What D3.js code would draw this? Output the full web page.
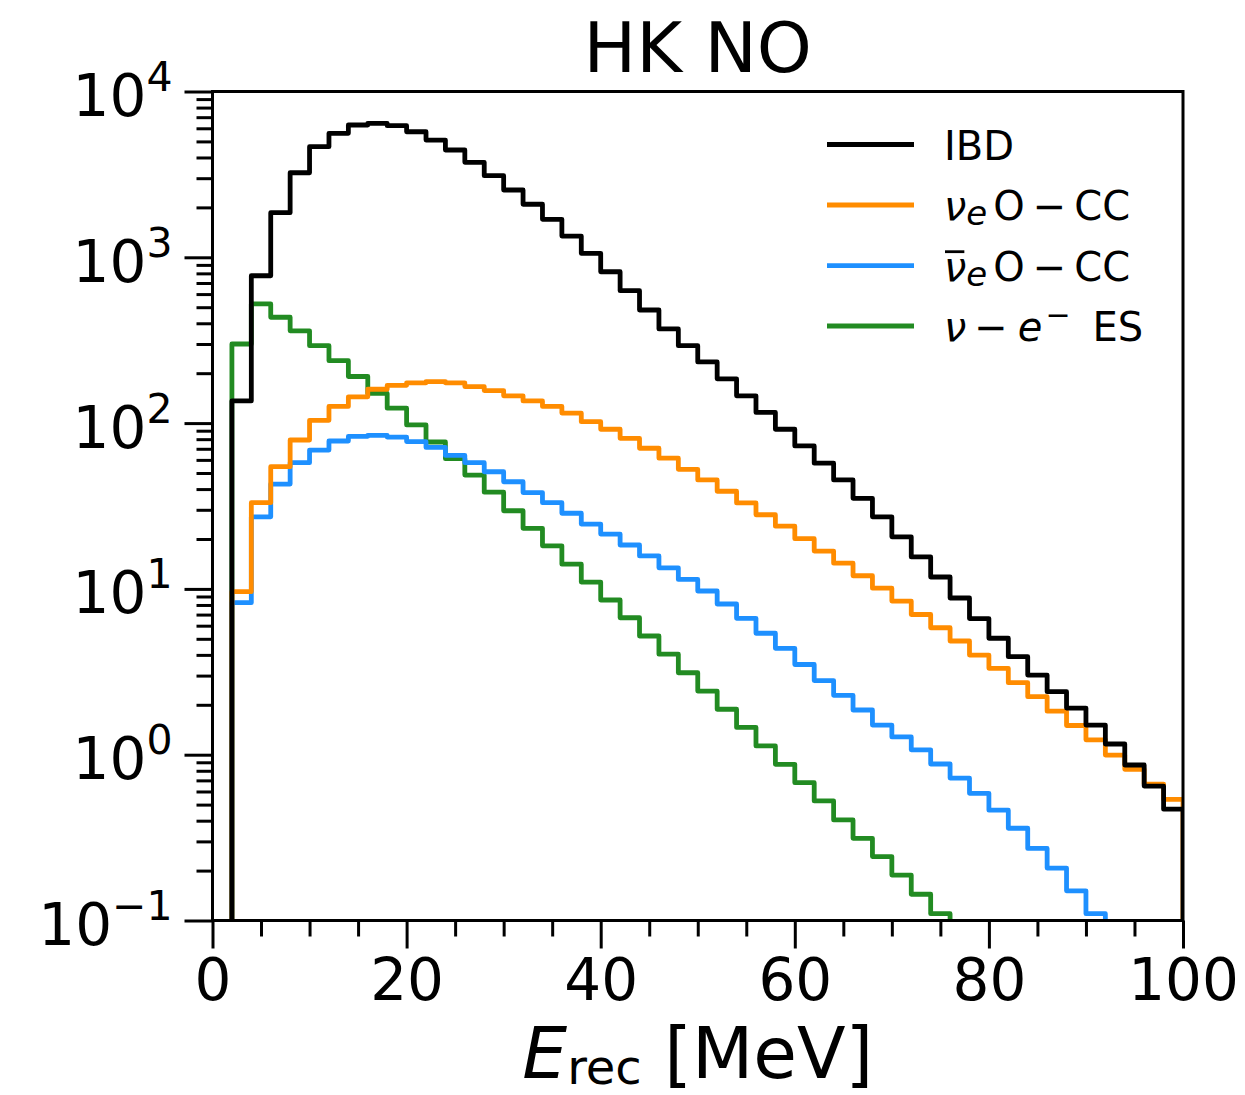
<!DOCTYPE html>
<html><head><meta charset="utf-8">
<script src="https://cdn.jsdelivr.net/npm/d3@7"></script>
<style>
body{margin:0;background:#fff}
svg{display:block}
text{font-family:"DejaVu Sans",sans-serif;fill:#000}
</style>
</head><body>
<svg id="c" width="1245" height="1095"></svg>
<script>
// ---- data (counts per 2 MeV bin, lower edges listed) ----
const binEdges = [0,2,4,6,8,10,12,14,16,18,20,22,24,26,28,30,32,34,36,38,40,42,44,46,48,50,52,54,56,58,60,62,64,66,68,70,72,74,76,78,80,82,84,86,88,90,92,94,96,98,100];
const ibd = [0,136,774,1858,3236,4645,5598,6281,6428,6223,5717,5096,4439,3741,3105,2547,2089,1695,1343,1057,818,629,481,370,293,234,185,146,116,91.8,72.8,57.3,45.4,35.2,27.2,20.6,15.6,11.8,8.81,6.62,5.04,3.90,3.02,2.40,1.91,1.51,1.16,0.867,0.647,0.469];
const nueOCC = [0,9.62,33.1,54.6,79.1,104,126,144,160,169,175,178,175,166,157,146,136,126,115,102,91.8,80.9,70.5,61.4,52.6,45.4,38.8,33.0,28.0,23.9,20.1,16.9,14.3,12.0,10.1,8.45,7.01,5.83,4.85,3.99,3.32,2.72,2.24,1.83,1.50,1.23,0.995,0.817,0.665,0.538];
const nuebarOCC = [0,8.26,27.2,42.9,57.7,68.8,78.0,83.2,84.4,82.4,77.4,71.3,63.8,57.7,50.9,44.3,38.1,33.1,28.6,24.6,21.4,18.4,15.8,13.4,11.4,9.71,8.11,6.65,5.40,4.38,3.50,2.80,2.28,1.86,1.51,1.28,1.07,0.879,0.723,0.585,0.463,0.360,0.272,0.207,0.151,0.110,0.080,0.058,0.042,0.030];
const esNu = [0,300,523,435,360,293,238,191,151,123,97.5,76.9,61.0,48.6,38.3,29.6,23.2,18.2,14.1,11.0,8.57,6.70,5.20,4.04,3.12,2.42,1.88,1.46,1.13,0.875,0.678,0.526,0.404,0.313,0.243,0.188,0.144,0.110,0.085,0.065,0.050,0.038,0.029,0.022,0.017,0.013,0.010,0.0077,0.0059,0.0045];
const xMajorTicks = [0,20,40,60,80,100];
const xMinorTicks = [5,10,15,25,30,35,45,50,55,65,70,75,85,90,95];
const yMajorTicks = [0.1,1,10,100,1000,10000];
const yMajorExp = ["\u22121","0","1","2","3","4"];
const titleText = "HK NO";

const series = [
  {name:"IBD", values: ibd, color:"#000000"},
  {name:"nue", values: nueOCC, color:"#ff8c00"},
  {name:"nuebar", values: nuebarOCC, color:"#1e90ff"},
  {name:"es", values: esNu, color:"#228b22"}
];

// ---- layout ----
const L = 212.5, R = 1183, T = 91.5, B = 920.5;
const x = d3.scaleLinear().domain([0,100]).range([L,R]);
const y = d3.scaleLog().domain([0.1,1e4]).range([B,T]);
const svg = d3.select("#c");

svg.append("defs").append("clipPath").attr("id","clip")
  .append("rect").attr("x",L).attr("y",T).attr("width",R-L).attr("height",B-T);

// ---- histograms (step) ----
const FLOOR = 1e-4;
function stepPoints(vals){
  const pts = [[binEdges[0], FLOOR]];
  vals.forEach((v,i)=>{
    const vv = v>0 ? v : FLOOR;
    pts.push([binEdges[i], vv]);
    pts.push([binEdges[i+1], vv]);
  });
  pts.push([binEdges[binEdges.length-1], FLOOR]);
  return pts;
}
const line = d3.line().x(d=>x(d[0])).y(d=>y(d[1]));
const gH = svg.append("g").attr("clip-path","url(#clip)");
series.slice().reverse().forEach(s=>{
  gH.append("path").attr("d", line(stepPoints(s.values)))
    .attr("fill","none").attr("stroke", s.color).attr("stroke-width",4.8)
    .attr("stroke-linejoin","round").attr("stroke-linecap","butt");
});

// ---- axes ----
const gx = svg.append("g").attr("transform",`translate(0,${B})`);
gx.call(d3.axisBottom(x).tickValues(xMajorTicks).tickSize(28).tickPadding(10).tickFormat(d3.format("d")));
const gxm = svg.append("g").attr("transform",`translate(0,${B})`);
gxm.call(d3.axisBottom(x).tickValues(xMinorTicks).tickSize(16).tickFormat(()=>""));
const gy = svg.append("g").attr("transform",`translate(${L},0)`);
gy.call(d3.axisLeft(y).tickValues(yMajorTicks).tickSize(28).tickFormat(()=>""));
const yMinor = [];
[0.1,1,10,100,1000].forEach(p=>{ for(let m=2;m<=9;m++) yMinor.push(m*p); });
const gym = svg.append("g").attr("transform",`translate(${L},0)`);
gym.call(d3.axisLeft(y).tickValues(yMinor).tickSize(16).tickFormat(()=>""));
[gx,gxm,gy,gym].forEach(g=>{
  g.select(".domain").remove();
  g.selectAll(".tick line").attr("stroke","#000").attr("stroke-width",3);
});
gx.selectAll(".tick text").attr("font-size",58).attr("font-family","DejaVu Sans").attr("fill","#000")
  .attr("dy","0.71em");

// y tick labels with superscripts
gy.selectAll(".tick").each(function(d,i){
  const t = d3.select(this).append("text").attr("x",-40).attr("y",24)
    .attr("text-anchor","end").attr("font-size",58);
  t.append("tspan").text("10");
  t.append("tspan").attr("font-size",41).attr("dy",-25).text(yMajorExp[i]);
});

// spines
svg.append("rect").attr("x",L).attr("y",T).attr("width",R-L).attr("height",B-T)
  .attr("fill","none").attr("stroke","#000").attr("stroke-width",3);

// ---- title ----
svg.append("text").attr("x",(L+R)/2).attr("y",72).attr("text-anchor","middle")
  .attr("font-size",70).text(titleText);

// ---- x label ----
const xl = svg.append("text").attr("x",(L+R)/2).attr("y",1078).attr("text-anchor","middle").attr("font-size",71);
xl.append("tspan").attr("font-style","italic").text("E");
xl.append("tspan").attr("font-size",48).attr("dy",6).text("rec");
xl.append("tspan").attr("dy",-6).text(" [MeV]");

// ---- legend ----
const legY = [144.5, 205, 265.7, 326];
const lg = svg.append("g");
series.forEach((s,i)=>{
  lg.append("line").attr("x1",827).attr("x2",914).attr("y1",legY[i]).attr("y2",legY[i])
    .attr("stroke",s.color).attr("stroke-width",4.8);
});
const LX = 944, FS = 40;
lg.append("text").attr("x",LX).attr("y",legY[0]+15).attr("font-size",FS).text("IBD");
function nuLabel(yy, bar){
  const t = lg.append("text").attr("x",LX).attr("y",yy+15).attr("font-size",FS);
  t.append("tspan").attr("font-style","italic").text("\u03bd");
  t.append("tspan").attr("font-style","italic").attr("font-size",34).attr("dy",5).text("e");
  t.append("tspan").attr("dy",-5).attr("dx",6).text("O\u2009\u2212\u2009CC");
  if(bar){
    const ext = t.node().getExtentOfChar(0);
    lg.append("line").attr("x1",ext.x+1).attr("x2",ext.x+ext.width-2)
      .attr("y1",yy-14).attr("y2",yy-14).attr("stroke","#000").attr("stroke-width",2.8);
  }
}
nuLabel(legY[1], false);
nuLabel(legY[2], true);
const t4 = lg.append("text").attr("x",LX).attr("y",legY[3]+15).attr("font-size",FS);
t4.append("tspan").attr("font-style","italic").text("\u03bd");
t4.append("tspan").text("\u2009\u2212\u2009");
t4.append("tspan").attr("font-style","italic").attr("dx",2).text("e");
t4.append("tspan").attr("font-size",30).attr("dy",-16).attr("dx",3).text("\u2212");
t4.append("tspan").attr("dy",16).attr("dx",22).text("ES");
</script>
</body></html>
